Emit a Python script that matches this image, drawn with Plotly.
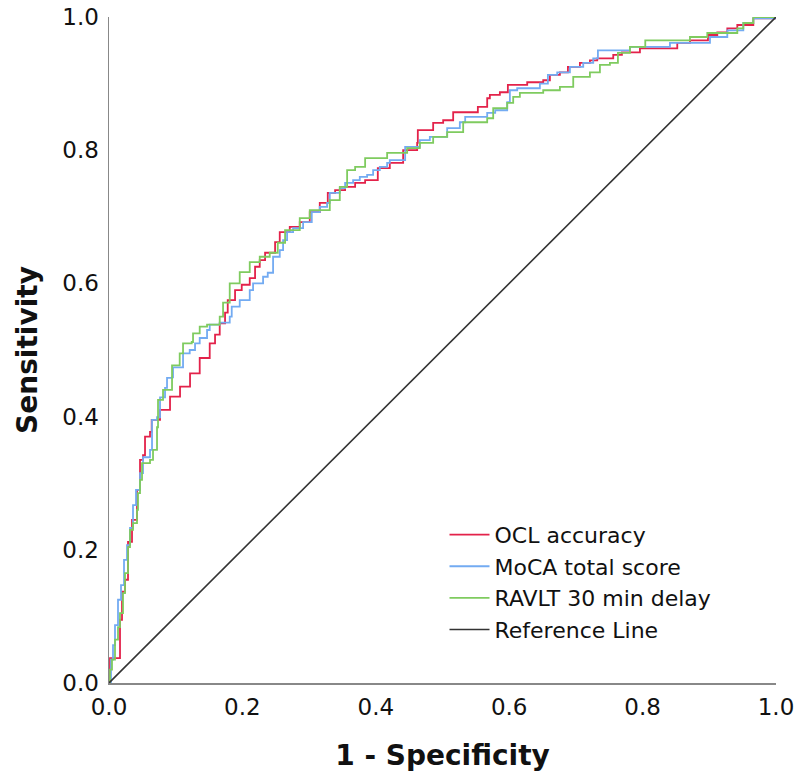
import plotly.graph_objects as go

# ROC curve vertices (1 - specificity, sensitivity)
ocl_fpr = [0, 0.0015, 0.0165, 0.0195, 0.024, 0.0285, 0.0345, 0.042, 0.0465, 0.051, 0.054, 0.0615, 0.064,
           0.0765, 0.0915, 0.1065, 0.1215, 0.136, 0.151, 0.159, 0.166, 0.174, 0.178, 0.189, 0.199, 0.211,
           0.219, 0.226, 0.234, 0.249, 0.256, 0.271, 0.286, 0.301, 0.316, 0.328, 0.339, 0.354, 0.369, 0.384,
           0.403, 0.421, 0.441, 0.462, 0.463, 0.486, 0.501, 0.516, 0.553, 0.567, 0.571, 0.586, 0.598, 0.627,
           0.651, 0.661, 0.676, 0.688, 0.706, 0.721, 0.732, 0.756, 0.769, 0.796, 0.852, 0.871, 0.898, 0.912,
           0.927, 0.942, 0.966, 1.0]
ocl_tpr = [0, 0.0375, 0.095, 0.137, 0.155, 0.212, 0.245, 0.29, 0.335, 0.342, 0.37, 0.377, 0.395,
           0.41, 0.43, 0.445, 0.465, 0.488, 0.51, 0.523, 0.54, 0.556, 0.575, 0.59, 0.598, 0.608,
           0.625, 0.635, 0.646, 0.662, 0.677, 0.685, 0.692, 0.707, 0.721, 0.736, 0.74, 0.745, 0.751, 0.755,
           0.773, 0.781, 0.80, 0.811, 0.83, 0.841, 0.845, 0.857, 0.865, 0.878, 0.883, 0.887, 0.898, 0.902,
           0.905, 0.913, 0.917, 0.925, 0.931, 0.935, 0.938, 0.943, 0.947, 0.953, 0.961, 0.965, 0.973, 0.977,
           0.983, 0.988, 0.998, 1.0]

moca_fpr = [0, 0.003, 0.006, 0.009, 0.0135, 0.018, 0.0225, 0.027, 0.0315, 0.036, 0.0405, 0.042, 0.0465,
            0.051, 0.0615, 0.0645, 0.072, 0.0765, 0.084, 0.087, 0.0945, 0.096, 0.111, 0.121, 0.129, 0.136,
            0.147, 0.151, 0.166, 0.181, 0.184, 0.196, 0.211, 0.216, 0.231, 0.238, 0.246, 0.256, 0.261, 0.267,
            0.276, 0.291, 0.304, 0.316, 0.327, 0.331, 0.346, 0.354, 0.366, 0.376, 0.387, 0.396, 0.406, 0.417,
            0.421, 0.444, 0.466, 0.481, 0.507, 0.526, 0.534, 0.567, 0.579, 0.597, 0.601, 0.612, 0.646, 0.658,
            0.672, 0.691, 0.711, 0.726, 0.733, 0.781, 0.841, 0.901, 0.927, 0.951, 0.966, 1.0]
moca_tpr = [0, 0.035, 0.057, 0.087, 0.125, 0.147, 0.185, 0.207, 0.233, 0.267, 0.29, 0.29, 0.315,
            0.339, 0.35, 0.395, 0.399, 0.429, 0.443, 0.458, 0.459, 0.474, 0.495, 0.5, 0.51, 0.518,
            0.53, 0.538, 0.541, 0.55, 0.565, 0.575, 0.59, 0.60, 0.61, 0.616, 0.64, 0.65, 0.665, 0.677,
            0.683, 0.692, 0.707, 0.715, 0.721, 0.736, 0.743, 0.751, 0.755, 0.76, 0.763, 0.77, 0.775, 0.781,
            0.785, 0.805, 0.815, 0.82, 0.833, 0.842, 0.85, 0.856, 0.86, 0.872, 0.89, 0.893, 0.90, 0.913,
            0.917, 0.925, 0.931, 0.938, 0.95, 0.955, 0.961, 0.97, 0.98, 0.991, 0.998, 1.0]

ravlt_fpr = [0, 0.0015, 0.0045, 0.009, 0.0135, 0.0165, 0.021, 0.024, 0.0285, 0.0315, 0.036, 0.042, 0.0435,
             0.0465, 0.0495, 0.0615, 0.066, 0.072, 0.0735, 0.081, 0.0945, 0.0945, 0.106, 0.111, 0.124, 0.126,
             0.136, 0.147, 0.166, 0.171, 0.181, 0.196, 0.211, 0.226, 0.241, 0.253, 0.264, 0.286, 0.301, 0.316,
             0.331, 0.346, 0.357, 0.369, 0.384, 0.417, 0.447, 0.466, 0.486, 0.507, 0.531, 0.567, 0.576, 0.597,
             0.606, 0.616, 0.651, 0.676, 0.696, 0.721, 0.736, 0.751, 0.763, 0.781, 0.804, 0.871, 0.897, 0.942,
             0.951, 0.966, 1.0]
ravlt_tpr = [0, 0.02, 0.035, 0.065, 0.084, 0.105, 0.135, 0.165, 0.204, 0.23, 0.24, 0.26, 0.285,
             0.305, 0.33, 0.335, 0.35, 0.384, 0.425, 0.44, 0.44, 0.477, 0.495, 0.51, 0.512, 0.525,
             0.535, 0.538, 0.55, 0.571, 0.60, 0.617, 0.632, 0.64, 0.646, 0.661, 0.68, 0.698, 0.71, 0.71,
             0.725, 0.745, 0.77, 0.775, 0.788, 0.796, 0.803, 0.811, 0.82, 0.827, 0.842, 0.848, 0.863, 0.871,
             0.88, 0.886, 0.89, 0.895, 0.91, 0.917, 0.928, 0.931, 0.946, 0.955, 0.965, 0.97, 0.976, 0.983,
             0.991, 1.0, 1.0]

ref_x = [0, 1]
ref_y = [0, 1]

series_names = ["OCL accuracy", "MoCA total score", "RAVLT 30 min delay", "Reference Line"]
tick_vals = [0.0, 0.2, 0.4, 0.6, 0.8, 1.0]
tick_text = ["0.0", "0.2", "0.4", "0.6", "0.8", "1.0"]

FONT = "DejaVu Sans"

fig = go.Figure()
fig.add_trace(go.Scatter(x=ocl_fpr, y=ocl_tpr, mode="lines", line_shape="hv", name=series_names[0],
                         line=dict(color="#e3224a", width=1.8)))
fig.add_trace(go.Scatter(x=moca_fpr, y=moca_tpr, mode="lines", line_shape="hv", name=series_names[1],
                         line=dict(color="#73abf2", width=1.8)))
fig.add_trace(go.Scatter(x=ravlt_fpr, y=ravlt_tpr, mode="lines", line_shape="hv", name=series_names[2],
                         line=dict(color="#7fcb5f", width=1.8)))
fig.add_trace(go.Scatter(x=ref_x, y=ref_y, mode="lines", name=series_names[3],
                         line=dict(color="#333333", width=1.6)))

fig.update_layout(
    width=801, height=781,
    margin=dict(l=109, r=25, t=17, b=98, autoexpand=False),
    plot_bgcolor="white", paper_bgcolor="white",
    font=dict(family=FONT, color="#111111"),
    showlegend=True,
    legend=dict(x=0.503, y=0.254, xanchor="left", yanchor="top",
                font=dict(family=FONT, size=22, color="#111111"),
                bgcolor="rgba(0,0,0,0)", tracegroupgap=0, itemwidth=40),
    xaxis=dict(range=[0, 1], tickvals=tick_vals, ticktext=tick_text, showgrid=False, zeroline=False,
               automargin=False, ticklabeloverflow="allow",
               showline=True, linecolor="#888888", linewidth=1.5, ticks="", ticklabelstandoff=3,
               tickfont=dict(family=FONT, size=23, color="#111111"),
               title=dict(text="<b>1 - Specificity</b>", font=dict(family=FONT, size=28, color="#111111"),
                          standoff=26)),
    yaxis=dict(range=[0, 1], tickvals=tick_vals, ticktext=tick_text, showgrid=False, zeroline=False,
               automargin=False, ticklabeloverflow="allow",
               showline=True, linecolor="#888888", linewidth=1.5, ticks="", ticklabelstandoff=4,
               tickfont=dict(family=FONT, size=23, color="#111111"),
               title=dict(text="<b>Sensitivity</b>", font=dict(family=FONT, size=28, color="#111111"),
                          standoff=16)),
)

fig.write_html("out.html",
               config={"displayModeBar": False, "staticPlot": True},
               post_script="document.body.style.margin='0px';document.body.style.overflow='hidden';")
